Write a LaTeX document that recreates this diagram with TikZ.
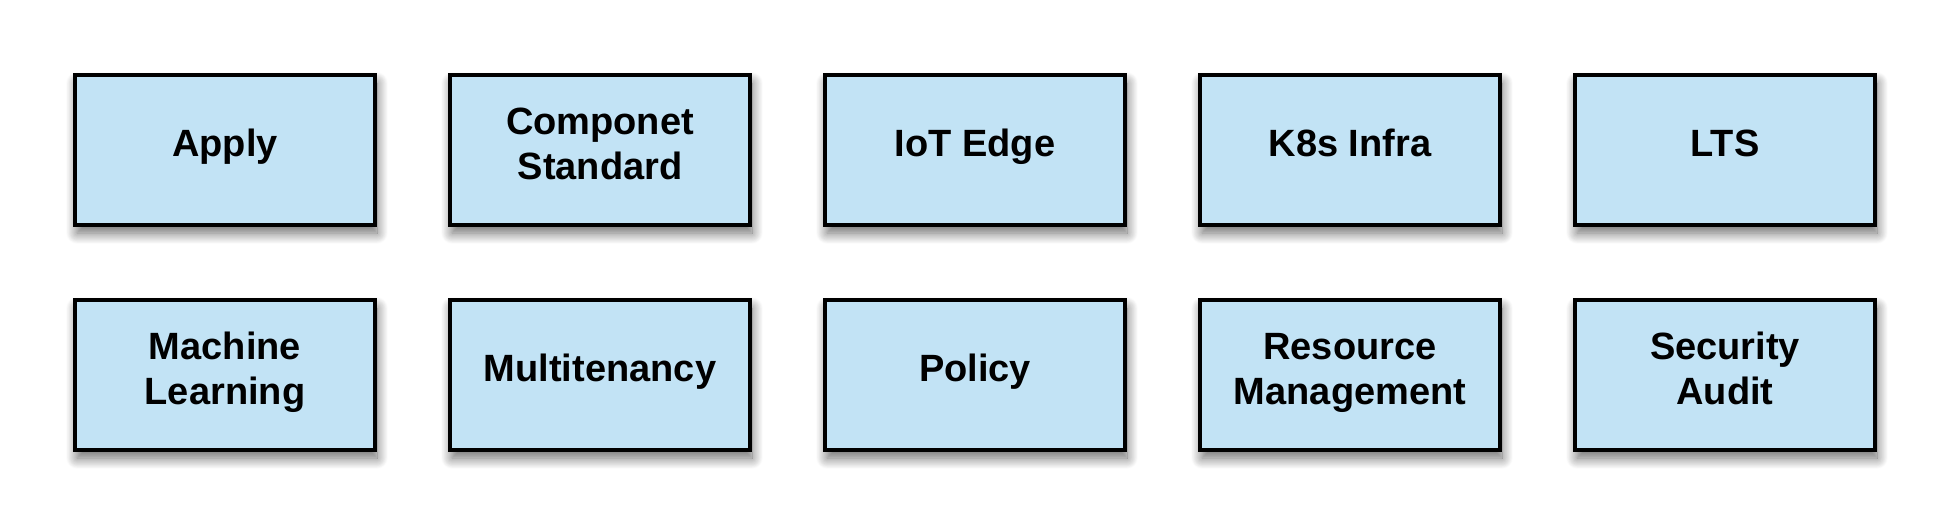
\documentclass[tikz,border=0pt]{standalone}
\usepackage{fontspec}
\setmainfont{Liberation Sans}
\usetikzlibrary{shadows.blur}
\definecolor{boxfill}{RGB}{194,227,245}
\newcommand{\lastline}{\rule[-18pt]{0pt}{1pt}}
\tikzset{
  modbox/.style={draw=black, line width=3.2pt, fill=boxfill,
    minimum width=300pt, minimum height=150pt, inner sep=0pt,
    align=center, font=\fontsize{38}{45}\selectfont\bfseries,
    blur shadow={shadow xshift=2pt, shadow yshift=-8pt, shadow blur radius=11pt, shadow blur steps=20, shadow opacity=60}}
}
\begin{document}
\begin{tikzpicture}[x=1pt,y=-1pt]
\useasboundingbox (0,0) rectangle (1950,525);
\node[modbox] (apply) at (225,150) {\strut Apply\lastline};
\node[modbox] (comp) at (600,150) {\strut Componet\\Standard\lastline};
\node[modbox] (iot) at (975,150) {\strut IoT Edge\lastline};
\node[modbox] (k8s) at (1350,150) {\strut K8s Infra\lastline};
\node[modbox] (lts) at (1725,150) {\strut LTS\lastline};
\node[modbox] (ml) at (225,375) {\strut Machine\\Learning\lastline};
\node[modbox] (mt) at (600,375) {\strut Multitenancy\lastline};
\node[modbox] (pol) at (975,375) {\strut Policy\lastline};
\node[modbox] (rm) at (1350,375) {\strut Resource\\Management\lastline};
\node[modbox] (sa) at (1725,375) {\strut Security\\Audit\lastline};
\end{tikzpicture}
\end{document}
